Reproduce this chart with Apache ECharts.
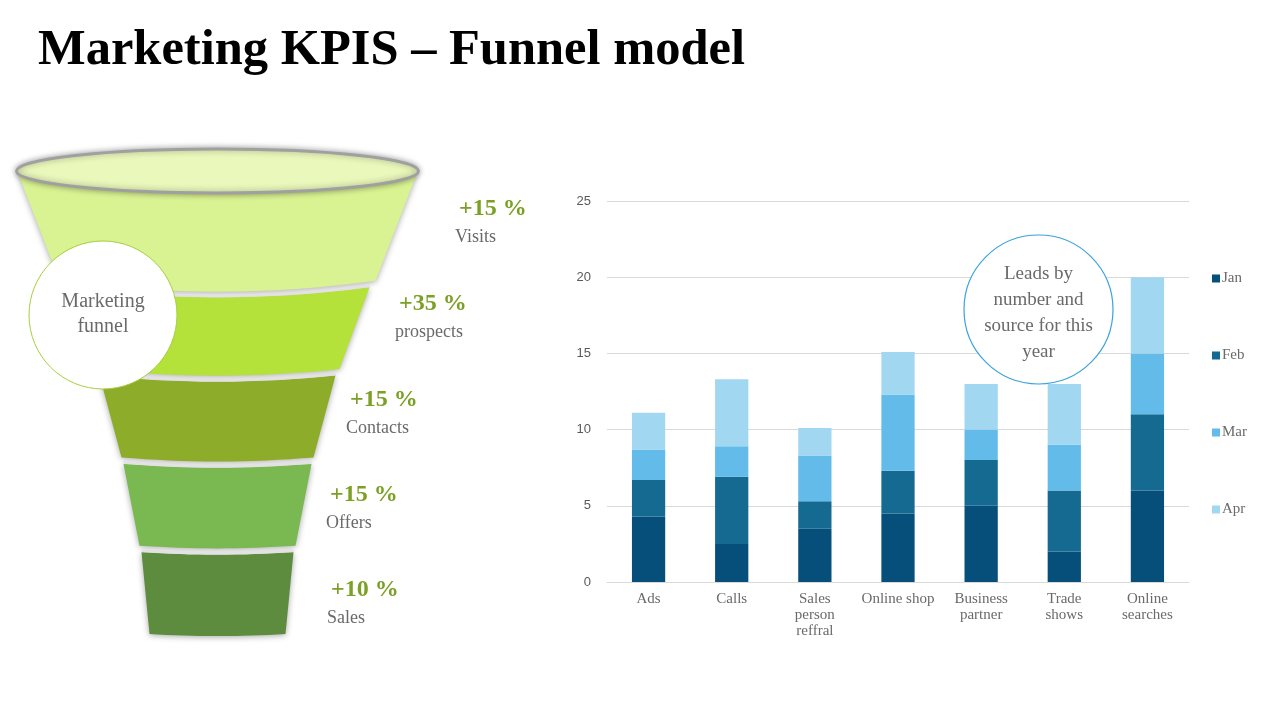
<!DOCTYPE html>
<html lang="en">
<head>
  <meta charset="UTF-8">
  <title>Marketing KPIS – Funnel model</title>
  <script src="https://cdn.jsdelivr.net/npm/echarts@6.0.0/dist/echarts.min.js"></script>
  <style>
    html, body {
      margin: 0;
      padding: 0;
      width: 100%;
      height: 100%;
      background: #fff;
    }

    #main {
      width: 1280px;
      height: 720px;
    }
  </style>
</head>
<body>
  <div id="main"></div>

  <script>
    // leads chart
    const categories = ['Ads', 'Calls', 'Sales\nperson\nreffral', 'Online shop', 'Business\npartner', 'Trade\nshows', 'Online\nsearches'];
    const months = ['Jan', 'Feb', 'Mar', 'Apr'];
    const janValues = [4.3, 2.5, 3.5, 4.5, 5, 2, 6];
    const febValues = [2.4, 4.4, 1.8, 2.8, 3, 4, 5];
    const marValues = [2, 2, 3, 5, 2, 3, 4];
    const aprValues = [2.4, 4.4, 1.8, 2.8, 3, 4, 5];
    const yTicks = [0, 5, 10, 15, 20, 25];

    // funnel stages (relative widths, 1 = rim)
    const stageNames = ['Visits', 'prospects', 'Contacts', 'Offers', 'Sales'];
    const stageGrowth = ['+15 %', '+35 %', '+15 %', '+15 %', '+10 %'];
    const stageTopWidth = [1.0, 0.76, 0.59, 0.47, 0.38];
    const stageBottomWidth = [0.79, 0.61, 0.48, 0.39, 0.34];

    const serif = "'Liberation Serif', 'DejaVu Serif', serif";
    const barColors = ['#054f7a', '#156a92', '#62bbe9', '#a2d7f2'];
    const stageColors = ['#d9f292', '#b4e13a', '#8dac2a', '#7ab851', '#5d8c3e'];
    const monthValues = [janValues, febValues, marValues, aprValues];

    // where the growth / stage text sits beside each band
    const labelAnchors = [[459, 209], [399, 304], [350, 400], [330, 495], [331, 590]];

    const chart = echarts.init(document.getElementById('main'));

    function curvePoints(cx, y, half, sag, reverse) {
      const pts = [];
      const n = 16;
      for (let k = 0; k <= n; k++) {
        const t = -1 + 2 * k / n;
        pts.push([cx + t * half, y + sag * (1 - t * t)]);
      }
      return reverse ? pts.reverse() : pts;
    }

    function renderStage(params, api) {
      const i = api.value(0);
      const c = api.coord([0, i]);
      const band = api.size([0, 1])[1];
      const topHalf = api.size([api.value(1), 0])[0];
      const botHalf = api.size([api.value(2), 0])[0];
      const gap = 6.5;
      let y0 = c[1] - band / 2;
      const y1 = c[1] + band / 2 - gap;
      let topSag = topHalf * topHalf * 0.00044;
      const botSag = botHalf * botHalf * 0.00044;
      if (i === 0) {
        // first band tucks under the rim ellipse
        y0 -= 27;
        topSag = 20;
      }
      const top = curvePoints(c[0], y0, topHalf, topSag, false);
      const bottom = curvePoints(c[0], y1, botHalf, botSag, true);
      const children = [{
        type: 'polygon',
        shape: { points: top.concat(bottom) },
        style: {
          fill: stageColors[i],
          shadowBlur: 6,
          shadowOffsetY: 1,
          shadowColor: 'rgba(0,0,0,0.35)'
        }
      }];
      if (i > 0) {
        children.push({
          type: 'polyline',
          shape: { points: top.map(p => [p[0], p[1] - 1.5]) },
          style: { stroke: '#e2e2e2', lineWidth: 2.5, fill: null }
        });
      }
      return { type: 'group', children: children };
    }

    const stageLabels = [];
    stageNames.forEach((name, i) => {
      stageLabels.push({
        type: 'text',
        x: labelAnchors[i][0],
        y: labelAnchors[i][1],
        z: 20,
        style: {
          text: stageGrowth[i],
          font: 'bold 24px ' + serif,
          fill: '#7ca025',
          verticalAlign: 'middle'
        }
      });
      stageLabels.push({
        type: 'text',
        x: labelAnchors[i][0] - 4,
        y: labelAnchors[i][1] + 28,
        z: 20,
        style: {
          text: name,
          font: '18px ' + serif,
          fill: '#6a6a6a',
          verticalAlign: 'middle'
        }
      });
    });

    const option = {
      animation: false,
      title: {
        text: 'Marketing KPIS – Funnel model',
        left: 38,
        top: 25,
        padding: 0,
        textStyle: {
          fontFamily: serif,
          fontWeight: 'bold',
          fontSize: 50.5,
          color: '#000'
        }
      },
      legend: {
        orient: 'vertical',
        left: 1207,
        top: 266,
        itemWidth: 8,
        itemHeight: 8,
        itemGap: 62,
        icon: 'rect',
        data: months,
        textStyle: {
          fontFamily: serif,
          fontSize: 15,
          color: '#6a6a6a',
          padding: [0, 0, 0, -3]
        }
      },
      grid: [
        { left: 607, right: 91, top: 201, bottom: 138 },
        { left: 17.5, width: 400, top: 199, height: 441.5 }
      ],
      xAxis: [
        {
          type: 'category',
          data: categories,
          gridIndex: 0,
          axisTick: { show: false },
          axisLine: { lineStyle: { color: '#d9d9d9' } },
          axisLabel: {
            interval: 0,
            margin: 9,
            fontFamily: serif,
            fontSize: 15,
            lineHeight: 16,
            color: '#6a6a6a'
          }
        },
        { type: 'value', gridIndex: 1, min: -1, max: 1, show: false }
      ],
      yAxis: [
        {
          type: 'value',
          gridIndex: 0,
          min: yTicks[0],
          max: yTicks[yTicks.length - 1],
          interval: 5,
          axisLine: { show: false },
          axisTick: { show: false },
          splitLine: { lineStyle: { color: '#d9d9d9' } },
          axisLabel: {
            margin: 16,
            fontFamily: "'Liberation Sans', sans-serif",
            fontSize: 13,
            color: '#595959'
          }
        },
        { type: 'category', gridIndex: 1, data: stageNames, inverse: true, show: false }
      ],
      series: months.map((m, k) => ({
        name: m,
        type: 'bar',
        stack: 'leads',
        barWidth: '40%',
        xAxisIndex: 0,
        yAxisIndex: 0,
        itemStyle: { color: barColors[k] },
        data: monthValues[k]
      })).concat([{
        type: 'custom',
        xAxisIndex: 1,
        yAxisIndex: 1,
        renderItem: renderStage,
        encode: { x: 1, y: 0 },
        data: stageNames.map((n, i) => [i, stageTopWidth[i], stageBottomWidth[i]])
      }]),
      graphic: [
        {
          type: 'ellipse',
          z: 10,
          shape: { cx: 217.5, cy: 171, rx: 201, ry: 22 },
          style: {
            fill: '#eaf8bb',
            stroke: '#a0a0a0',
            lineWidth: 3,
            shadowBlur: 6,
            shadowColor: 'rgba(0,0,0,0.35)'
          }
        },
        {
          type: 'circle',
          z: 12,
          shape: { cx: 103, cy: 315, r: 74 },
          style: { fill: '#fff', stroke: '#a6cf3d', lineWidth: 1 }
        },
        {
          type: 'text',
          z: 13,
          x: 103,
          y: 314,
          style: {
            text: 'Marketing\nfunnel',
            font: '20px ' + serif,
            lineHeight: 25,
            fill: '#6a6a6a',
            align: 'center',
            verticalAlign: 'middle'
          }
        },
        {
          type: 'circle',
          z: 12,
          shape: { cx: 1038.5, cy: 309.5, r: 74.5 },
          style: { fill: '#fff', stroke: '#3aa3dc', lineWidth: 1.2 }
        },
        {
          type: 'text',
          z: 13,
          x: 1038.5,
          y: 313,
          style: {
            text: 'Leads by\nnumber and\nsource for this\nyear',
            font: '19px ' + serif,
            lineHeight: 26,
            fill: '#6a6a6a',
            align: 'center',
            verticalAlign: 'middle'
          }
        }
      ].concat(stageLabels)
    };

    chart.setOption(option);
    window.addEventListener('resize', () => chart.resize());
  </script>
</body>
</html>
